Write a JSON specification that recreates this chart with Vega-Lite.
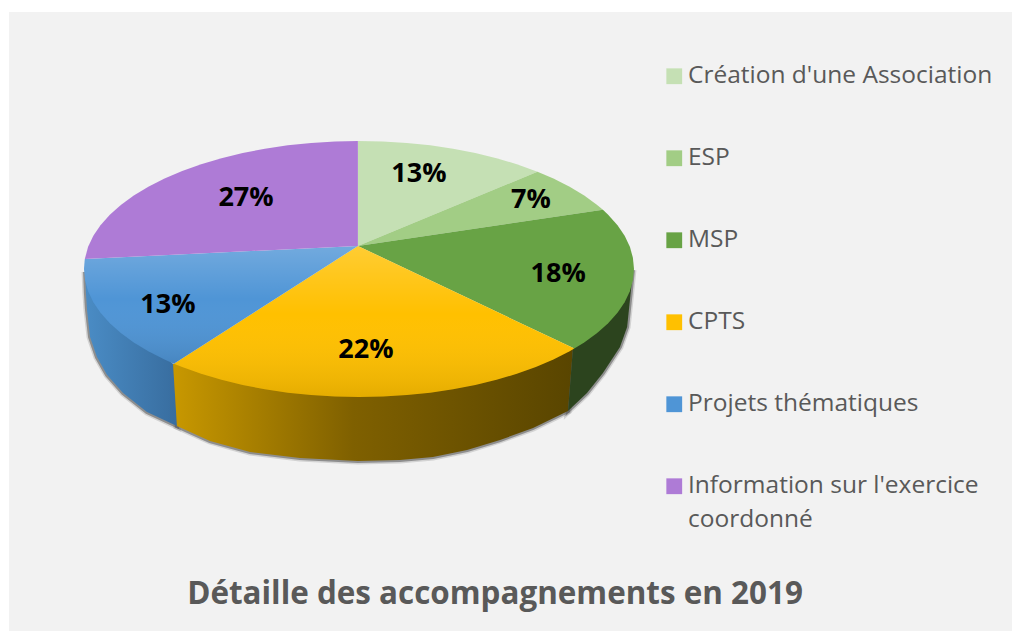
{"$schema":"https://vega.github.io/schema/vega-lite/v6.json","width":1003,"height":619,"autosize":{"type":"none"},"padding":{"left":9,"top":12,"right":0,"bottom":0},"background":"#ffffff",
"view":{"fill":"#f2f2f2","stroke":null},
"title":{"text":"Détaille des accompagnements en 2019","orient":"bottom","anchor":"middle","frame":"group","offset":-52,"dx":-15.5,"font":"Open Sans","fontWeight":"bold","fontSize":31.4,"color":"#595959"},
"datasets":{
"faces":[
{"cat":"Création d'une Association","i":0,"x":-0.004,"y":0.18},{"cat":"Création d'une Association","i":1,"x":-0.004,"y":1},{"cat":"Création d'une Association","i":2,"x":0.087,"y":0.996},{"cat":"Création d'une Association","i":3,"x":0.174,"y":0.985},{"cat":"Création d'une Association","i":4,"x":0.259,"y":0.966},{"cat":"Création d'une Association","i":5,"x":0.342,"y":0.94},{"cat":"Création d'une Association","i":6,"x":0.423,"y":0.906},{"cat":"Création d'une Association","i":7,"x":0.5,"y":0.866},{"cat":"Création d'une Association","i":8,"x":0.574,"y":0.819},{"cat":"Création d'une Association","i":9,"x":0.649,"y":0.76},
{"cat":"ESP","i":0,"x":-0.004,"y":0.18},{"cat":"ESP","i":1,"x":0.649,"y":0.76},{"cat":"ESP","i":2,"x":0.707,"y":0.707},{"cat":"ESP","i":3,"x":0.766,"y":0.643},{"cat":"ESP","i":4,"x":0.819,"y":0.574},{"cat":"ESP","i":5,"x":0.866,"y":0.5},{"cat":"ESP","i":6,"x":0.887,"y":0.462},
{"cat":"MSP","i":0,"x":-0.004,"y":0.18},{"cat":"MSP","i":1,"x":0.887,"y":0.462},{"cat":"MSP","i":2,"x":0.906,"y":0.423},{"cat":"MSP","i":3,"x":0.94,"y":0.342},{"cat":"MSP","i":4,"x":0.966,"y":0.259},{"cat":"MSP","i":5,"x":0.985,"y":0.174},{"cat":"MSP","i":6,"x":0.996,"y":0.087},{"cat":"MSP","i":7,"x":1,"y":0},{"cat":"MSP","i":8,"x":0.996,"y":-0.087},{"cat":"MSP","i":9,"x":0.985,"y":-0.174},{"cat":"MSP","i":10,"x":0.966,"y":-0.259},{"cat":"MSP","i":11,"x":0.94,"y":-0.342},{"cat":"MSP","i":12,"x":0.906,"y":-0.423},{"cat":"MSP","i":13,"x":0.866,"y":-0.5},{"cat":"MSP","i":14,"x":0.819,"y":-0.574},{"cat":"MSP","i":15,"x":0.783,"y":-0.622},
{"cat":"CPTS","i":0,"x":-0.004,"y":0.18},{"cat":"CPTS","i":1,"x":0.783,"y":-0.622},{"cat":"CPTS","i":2,"x":0.766,"y":-0.643},{"cat":"CPTS","i":3,"x":0.707,"y":-0.707},{"cat":"CPTS","i":4,"x":0.643,"y":-0.766},{"cat":"CPTS","i":5,"x":0.574,"y":-0.819},{"cat":"CPTS","i":6,"x":0.5,"y":-0.866},{"cat":"CPTS","i":7,"x":0.423,"y":-0.906},{"cat":"CPTS","i":8,"x":0.342,"y":-0.94},{"cat":"CPTS","i":9,"x":0.259,"y":-0.966},{"cat":"CPTS","i":10,"x":0.174,"y":-0.985},{"cat":"CPTS","i":11,"x":0.087,"y":-0.996},{"cat":"CPTS","i":12,"x":0,"y":-1},{"cat":"CPTS","i":13,"x":-0.087,"y":-0.996},{"cat":"CPTS","i":14,"x":-0.174,"y":-0.985},{"cat":"CPTS","i":15,"x":-0.259,"y":-0.966},{"cat":"CPTS","i":16,"x":-0.342,"y":-0.94},{"cat":"CPTS","i":17,"x":-0.423,"y":-0.906},{"cat":"CPTS","i":18,"x":-0.5,"y":-0.866},{"cat":"CPTS","i":19,"x":-0.574,"y":-0.819},{"cat":"CPTS","i":20,"x":-0.643,"y":-0.766},{"cat":"CPTS","i":21,"x":-0.673,"y":-0.74},
{"cat":"Projets thématiques","i":0,"x":-0.004,"y":0.18},{"cat":"Projets thématiques","i":1,"x":-0.673,"y":-0.74},{"cat":"Projets thématiques","i":2,"x":-0.707,"y":-0.707},{"cat":"Projets thématiques","i":3,"x":-0.766,"y":-0.643},{"cat":"Projets thématiques","i":4,"x":-0.819,"y":-0.574},{"cat":"Projets thématiques","i":5,"x":-0.866,"y":-0.5},{"cat":"Projets thématiques","i":6,"x":-0.906,"y":-0.423},{"cat":"Projets thématiques","i":7,"x":-0.94,"y":-0.342},{"cat":"Projets thématiques","i":8,"x":-0.966,"y":-0.259},{"cat":"Projets thématiques","i":9,"x":-0.985,"y":-0.174},{"cat":"Projets thématiques","i":10,"x":-0.996,"y":-0.087},{"cat":"Projets thématiques","i":11,"x":-1,"y":0},{"cat":"Projets thématiques","i":12,"x":-0.997,"y":0.078},
{"cat":"Information sur l'exercice coordonné","i":0,"x":-0.004,"y":0.18},{"cat":"Information sur l'exercice coordonné","i":1,"x":-0.997,"y":0.078},{"cat":"Information sur l'exercice coordonné","i":2,"x":-0.985,"y":0.174},{"cat":"Information sur l'exercice coordonné","i":3,"x":-0.966,"y":0.259},{"cat":"Information sur l'exercice coordonné","i":4,"x":-0.94,"y":0.342},{"cat":"Information sur l'exercice coordonné","i":5,"x":-0.906,"y":0.423},{"cat":"Information sur l'exercice coordonné","i":6,"x":-0.866,"y":0.5},{"cat":"Information sur l'exercice coordonné","i":7,"x":-0.819,"y":0.574},{"cat":"Information sur l'exercice coordonné","i":8,"x":-0.766,"y":0.643},{"cat":"Information sur l'exercice coordonné","i":9,"x":-0.707,"y":0.707},{"cat":"Information sur l'exercice coordonné","i":10,"x":-0.643,"y":0.766},{"cat":"Information sur l'exercice coordonné","i":11,"x":-0.574,"y":0.819},{"cat":"Information sur l'exercice coordonné","i":12,"x":-0.5,"y":0.866},{"cat":"Information sur l'exercice coordonné","i":13,"x":-0.423,"y":0.906},{"cat":"Information sur l'exercice coordonné","i":14,"x":-0.342,"y":0.94},{"cat":"Information sur l'exercice coordonné","i":15,"x":-0.259,"y":0.966},{"cat":"Information sur l'exercice coordonné","i":16,"x":-0.174,"y":0.985},{"cat":"Information sur l'exercice coordonné","i":17,"x":-0.087,"y":0.996},{"cat":"Information sur l'exercice coordonné","i":18,"x":-0.004,"y":1}
],
"walls":[
{"cat":"Projets thématiques","i":0,"x":-0.996,"y":-0.023},{"cat":"Projets thématiques","i":1,"x":-0.993,"y":-0.188},{"cat":"Projets thématiques","i":2,"x":-0.989,"y":-0.32},{"cat":"Projets thématiques","i":3,"x":-0.978,"y":-0.531},{"cat":"Projets thématiques","i":4,"x":-0.953,"y":-0.688},{"cat":"Projets thématiques","i":5,"x":-0.916,"y":-0.828},{"cat":"Projets thématiques","i":6,"x":-0.858,"y":-0.969},{"cat":"Projets thématiques","i":7,"x":-0.771,"y":-1.117},{"cat":"Projets thématiques","i":8,"x":-0.662,"y":-1.227},{"cat":"Projets thématiques","i":9,"x":-0.676,"y":-0.742},
{"cat":"CPTS","i":0,"x":-0.676,"y":-0.742},{"cat":"CPTS","i":1,"x":-0.662,"y":-1.227},{"cat":"CPTS","i":2,"x":-0.542,"y":-1.344},{"cat":"CPTS","i":3,"x":-0.396,"y":-1.43},{"cat":"CPTS","i":4,"x":-0.215,"y":-1.477},{"cat":"CPTS","i":5,"x":-0.004,"y":-1.5},{"cat":"CPTS","i":6,"x":0.149,"y":-1.492},{"cat":"CPTS","i":7,"x":0.269,"y":-1.469},{"cat":"CPTS","i":8,"x":0.393,"y":-1.414},{"cat":"CPTS","i":9,"x":0.513,"y":-1.336},{"cat":"CPTS","i":10,"x":0.633,"y":-1.242},{"cat":"CPTS","i":11,"x":0.76,"y":-1.109},{"cat":"CPTS","i":12,"x":0.778,"y":-0.617},
{"cat":"MSP","i":0,"x":0.778,"y":-0.617},{"cat":"MSP","i":1,"x":0.76,"y":-1.109},{"cat":"MSP","i":2,"x":0.829,"y":-0.969},{"cat":"MSP","i":3,"x":0.887,"y":-0.813},{"cat":"MSP","i":4,"x":0.949,"y":-0.609},{"cat":"MSP","i":5,"x":0.975,"y":-0.453},{"cat":"MSP","i":6,"x":0.989,"y":-0.164},{"cat":"MSP","i":7,"x":0.996,"y":-0.008}
],
"labels":[
{"cat":"Création d'une Association","part":0.13,"x":0.218,"y":0.758},{"cat":"ESP","part":0.07,"x":0.625,"y":0.555},{"cat":"MSP","part":0.18,"x":0.724,"y":-0.023},{"cat":"CPTS","part":0.22,"x":0.025,"y":-0.617},{"cat":"Projets thématiques","part":0.13,"x":-0.695,"y":-0.266},{"cat":"Information sur l'exercice coordonné","part":0.27,"x":-0.411,"y":0.57}
]},
"encoding":{
"x":{"field":"x","type":"quantitative","scale":{"domain":[-1.2727,2.3745],"nice":false,"zero":false},"axis":null},
"y":{"field":"y","type":"quantitative","scale":{"domain":[-2.8281,2.0078],"nice":false,"zero":false},"axis":null}
},
"layer":[
{"data":{"name":"walls"},"mark":{"type":"line","stroke":"#666666","strokeWidth":7,"opacity":0.22},"encoding":{"detail":{"field":"cat"},"order":{"field":"i","type":"quantitative"}}},
{"data":{"name":"walls"},"mark":{"type":"line","stroke":"#555555","strokeWidth":4,"opacity":0.55},"encoding":{"detail":{"field":"cat"},"order":{"field":"i","type":"quantitative"}}},
{"data":{"name":"walls"},"transform":[{"filter":"datum.cat==='Projets thématiques'"}],"mark":{"type":"line","filled":true,"strokeWidth":0,"color":{"gradient":"linear","x1":0,"x2":1,"y1":0,"y2":0,"stops":[{"offset":0,"color":"#4a8cc5"},{"offset":1,"color":"#386d9f"}]}},"encoding":{"order":{"field":"i","type":"quantitative"}}},
{"data":{"name":"walls"},"transform":[{"filter":"datum.cat==='CPTS'"}],"mark":{"type":"line","filled":true,"strokeWidth":0,"color":{"gradient":"linear","x1":0,"x2":1,"y1":0,"y2":0,"stops":[{"offset":0,"color":"#c89800"},{"offset":0.45,"color":"#7f6000"},{"offset":1,"color":"#594500"}]}},"encoding":{"order":{"field":"i","type":"quantitative"}}},
{"data":{"name":"walls"},"transform":[{"filter":"datum.cat==='MSP'"}],"mark":{"type":"line","filled":true,"strokeWidth":0,"color":"#2c441e"},"encoding":{"order":{"field":"i","type":"quantitative"}}},
{"data":{"name":"faces"},"mark":{"type":"line","filled":true,"strokeWidth":0},"encoding":{"order":{"field":"i","type":"quantitative"},
"color":{"field":"cat","type":"nominal","scale":{"domain":["Création d'une Association","ESP","MSP","CPTS","Projets thématiques","Information sur l'exercice coordonné"],"range":["#c5e0b4","#a2cd85","#68a345","#ffc000","#4f95d6","#ae7bd6"]},
"legend":{"title":null,"orient":"none","legendX":653,"legendY":52,"symbolType":"square","symbolSize":250,"symbolStrokeWidth":0,"labelFont":"Open Sans","labelFontSize":24.5,"labelColor":"#595959","labelLimit":400,"rowPadding":57,"labelOffset":1.5,"labelExpr":"datum.label===\"Information sur l'exercice coordonné\"?[\"Information sur l'exercice\",\"coordonné\"]:datum.label","encoding":{"labels":{"lineHeight":{"value":34}}}}}}},
{"data":{"name":"faces"},"transform":[{"filter":"datum.cat==='CPTS'||datum.cat==='Projets thématiques'"}],"mark":{"type":"line","filled":true,"strokeWidth":0,"color":{"gradient":"linear","x1":0,"x2":0,"y1":0,"y2":1,"stops":[{"offset":0,"color":"rgba(255,255,255,0.2)"},{"offset":0.45,"color":"rgba(255,255,255,0)"},{"offset":1,"color":"rgba(0,0,0,0.1)"}]}},"encoding":{"detail":{"field":"cat"},"order":{"field":"i","type":"quantitative"}}},
{"data":{"name":"labels"},"mark":{"type":"text","font":"Open Sans","fontWeight":"bold","fontSize":27,"color":"#000000","dy":2},"encoding":{"text":{"field":"part","type":"quantitative","format":".0%"}}}
]}
